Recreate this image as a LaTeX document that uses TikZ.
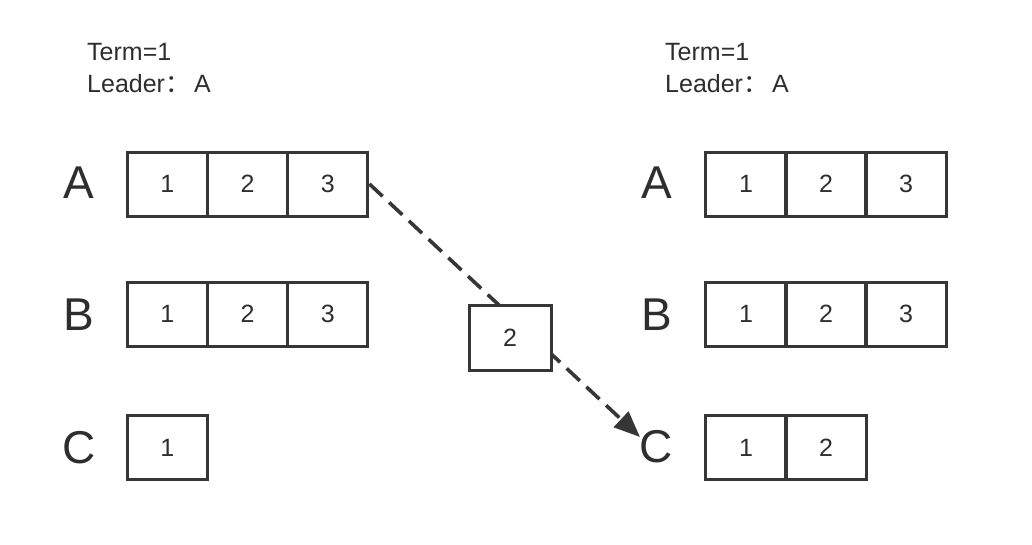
\documentclass[tikz,border=0pt]{standalone}
\usepackage{fontspec}
\setmainfont{Liberation Sans}
\newfontfamily\cjk{Noto Sans CJK SC}
\usetikzlibrary{arrows.meta}
\definecolor{ln}{HTML}{363636}
\definecolor{tx}{HTML}{2E2E2E}
\tikzset{
  cell/.style={draw=ln, line width=3pt, minimum width=80.3pt, minimum height=64pt, inner sep=0pt, text=tx, font=\fontsize{25}{25}\selectfont},
  rowlabel/.style={anchor=base, inner sep=0pt, text=tx, font=\fontsize{46}{46}\selectfont},
  info/.style={anchor=base west, inner sep=0pt, text=tx, font=\fontsize{25}{25}\selectfont},
  msg/.style={draw=ln, line width=3.6pt, dash pattern=on 18pt off 9pt, -{Triangle[length=26pt,width=21pt]}}
}
\begin{document}
\begin{tikzpicture}[x=1pt,y=-1pt]
\useasboundingbox (0,0) rectangle (1032,544);
% header texts
\node[info] (t1) at (87,60) {Term=1};
\node[info] (l1) at (87,92) {Leader{\cjk ：}\,A};
\node[info] (t2) at (665,60) {Term=1};
\node[info] (l2) at (665,92) {Leader{\cjk ：}\,A};
% left row labels
\node[rowlabel] (LA) at (79,198) {A};
\node[rowlabel] (LB) at (79,330) {B};
\node[rowlabel] (LC) at (79,463) {C};
% right row labels
\node[rowlabel] (RA) at (657,198) {A};
\node[rowlabel] (RB) at (657,330) {B};
\node[rowlabel] (RC) at (656,462) {C};
% left logs
\node[cell] (a1) at (167.2,184) {1};
\node[cell] (a2) at (247.5,184) {2};
\node[cell] (a3) at (327.8,184) {3};
\node[cell] (b1) at (167.2,314) {1};
\node[cell] (b2) at (247.5,314) {2};
\node[cell] (b3) at (327.8,314) {3};
\node[cell] (c1) at (167.2,447.5) {1};
% right logs
\node[cell] (ra1) at (746,184) {1};
\node[cell] (ra2) at (826,184) {2};
\node[cell] (ra3) at (906,184) {3};
\node[cell] (rb1) at (746,314) {1};
\node[cell] (rb2) at (826,314) {2};
\node[cell] (rb3) at (906,314) {3};
\node[cell] (rc1) at (746,447.5) {1};
\node[cell] (rc2) at (826,447.5) {2};
% message
\coordinate (tip) at (640,437);
\draw[msg] (a3.east) -- (tip);
\node[cell, fill=white, minimum width=82pt, minimum height=65pt] (m) at (510,337.5) {2};
\end{tikzpicture}
\end{document}
